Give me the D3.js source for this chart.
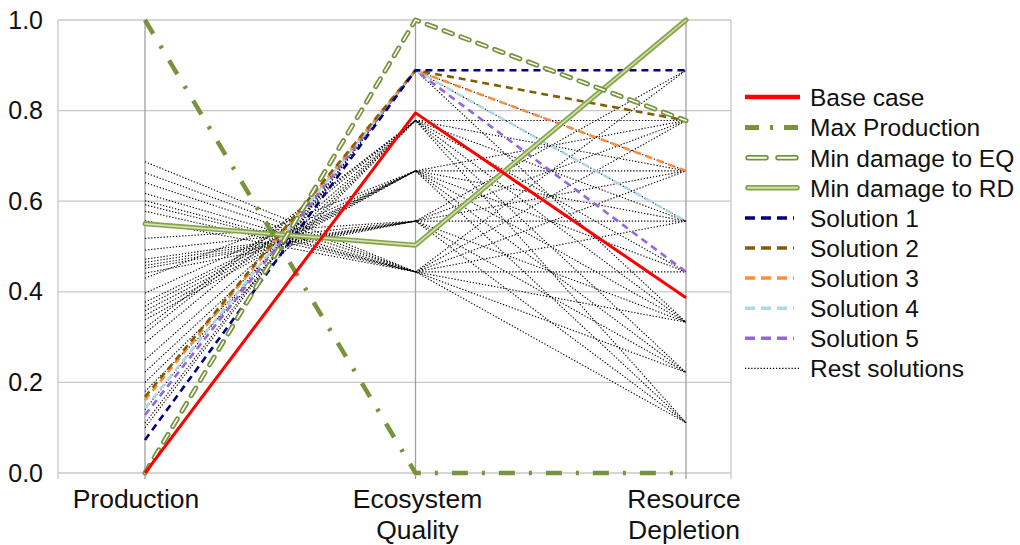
<!DOCTYPE html>
<html lang="en">
<head>
<meta charset="UTF-8">
<title>Solutions chart</title>
<script src="https://d3js.org/d3.v7.min.js"></script>
<style>
  body { margin: 0; background: #fff; }
  text { font-family: "Liberation Sans", Arial, sans-serif; fill: #111; }
</style>
</head>
<body>
<svg id="chart" width="1020" height="545"></svg>
<script>
// data
const categories = ["Production", "Ecosystem Quality", "Resource Depletion"];
const yTicks = [0, 0.2, 0.4, 0.6, 0.8, 1.0];

const baseCase = [0, 0.795, 0.387];
const maxProduction = [1, 0, 0];
const minDamageEQ = [0, 1, 0.778];
const minDamageRD = [0.55, 0.503, 1];
const solution1 = [0.073, 0.889, 0.889];
const solution2 = [0.168, 0.889, 0.778];
const solution3 = [0.161, 0.889, 0.667];
const solution4 = [0.143, 0.889, 0.556];
const solution5 = [0.128, 0.889, 0.444];

// remaining solutions: [production, ecosystem quality, resource depletion]
const restSolutions = [
    [0.687, 0.444, 0.889], [0.663, 0.444, 0.778], [0.641, 0.444, 0.667],
    [0.617, 0.444, 0.556], [0.601, 0.444, 0.333], [0.592, 0.444, 0.222],
    [0.578, 0.444, 0.111], [0.557, 0.444, 0.444],
    [0.518, 0.556, 0.778], [0.492, 0.556, 0.889], [0.472, 0.556, 0.667],
    [0.465, 0.556, 0.556], [0.458, 0.556, 0.333], [0.452, 0.556, 0.222],
    [0.441, 0.556, 0.111],
    [0.430, 0.667, 0.778], [0.397, 0.667, 0.667], [0.377, 0.667, 0.556],
    [0.368, 0.667, 0.444], [0.358, 0.667, 0.333], [0.348, 0.667, 0.222],
    [0.338, 0.667, 0.111],
    [0.320, 0.778, 0.778], [0.309, 0.778, 0.667], [0.287, 0.778, 0.556],
    [0.250, 0.778, 0.444], [0.223, 0.778, 0.333], [0.200, 0.778, 0.222],
    [0.180, 0.778, 0.111],
    [0.140, 0.889, 0.667], [0.110, 0.889, 0.556], [0.100, 0.889, 0.333]
];

const svg = d3.select("#chart");
const width = +svg.attr("width");

const frameLeft = 58, frameRight = 731;
const x = d3.scalePoint().domain(categories).range([145, 686]);
const y = d3.scaleLinear().domain([0, 1]).range([473, 20]);

svg.append("rect").attr("width", width).attr("height", 545).attr("fill", "#fff");

// grid
const grid = svg.append("g");
grid.selectAll("line.h")
    .data(yTicks)
    .enter()
    .append("line")
    .attr("x1", frameLeft).attr("x2", frameRight)
    .attr("y1", d => y(d)).attr("y2", d => y(d))
    .attr("stroke", "#c8c8c8").attr("stroke-width", 1.3);

grid.selectAll("line.frame")
    .data([frameLeft, frameRight])
    .enter()
    .append("line")
    .attr("x1", d => d).attr("x2", d => d)
    .attr("y1", y(1)).attr("y2", y(0) + 6)
    .attr("stroke", "#c8c8c8").attr("stroke-width", 1.3);

grid.selectAll("line.cat")
    .data(categories)
    .enter()
    .append("line")
    .attr("x1", d => x(d)).attr("x2", d => x(d))
    .attr("y1", y(1)).attr("y2", y(0) + 6)
    .attr("stroke", "#a0a0a0").attr("stroke-width", 1.3);

// y axis labels
svg.append("g")
    .attr("transform", `translate(${frameLeft},0)`)
    .call(d3.axisLeft(y).tickValues(yTicks).tickFormat(d3.format(".1f")).tickSize(0).tickPadding(15))
    .call(g => g.select(".domain").remove())
    .selectAll("text")
    .style("font-family", "'Liberation Sans', Arial, sans-serif")
    .style("font-size", "25px")
    .attr("fill", "#111");

// category labels (first one sits a little left of its axis in the original)
const labelShift = [-9, 2, -2];
const catLabels = svg.append("g");
categories.forEach((c, ci) => {
    const cx = x(c) + labelShift[ci];
    const t = catLabels.append("text")
        .attr("x", cx)
        .attr("y", 508)
        .attr("text-anchor", "middle")
        .style("font-size", "26.5px");
    c.split(" ").forEach((w, i) => {
        t.append("tspan").attr("x", cx).attr("dy", i === 0 ? 0 : 31).text(w);
    });
});

// styles
const dashed = color => ({
    chart: [{ stroke: color, width: 2.6, dash: "7,5" }],
    key: [{ stroke: color, width: 3.5, dash: "10,6" }]
});
const series = [
    { name: "Base case", values: baseCase,
      chart: [{ stroke: "#ff0000", width: 3 }],
      key: [{ stroke: "#ff0000", width: 4.5 }] },
    { name: "Max Production", values: maxProduction,
      chart: [{ stroke: "#77933c", width: 4.5, dash: "16,14,3,14" }],
      key: [{ stroke: "#77933c", width: 5, dash: "14,11,3,11" }] },
    { name: "Min damage to EQ", values: minDamageEQ,
      chart: [{ stroke: "#77933c", width: 5, dash: "9,9", cap: "round" },
              { stroke: "#fff", width: 1.6, dash: "9,9", cap: "round" }],
      key: [{ stroke: "#77933c", width: 5.5, dash: "18,12", cap: "round" },
            { stroke: "#fff", width: 2, dash: "18,12", cap: "round" }] },
    { name: "Min damage to RD", values: minDamageRD,
      chart: [{ stroke: "#86a44a", width: 5, cap: "round" },
              { stroke: "#d3e2b0", width: 1.6, cap: "round" }],
      key: [{ stroke: "#86a44a", width: 5.5, cap: "round" },
            { stroke: "#d3e2b0", width: 2, cap: "round" }] },
    Object.assign({ name: "Solution 1", values: solution1 }, dashed("#000080")),
    Object.assign({ name: "Solution 2", values: solution2 }, dashed("#7f6000")),
    Object.assign({ name: "Solution 3", values: solution3 }, dashed("#ff8b3d")),
    Object.assign({ name: "Solution 4", values: solution4 }, dashed("#add8e6")),
    Object.assign({ name: "Solution 5", values: solution5 }, dashed("#9467e0"))
];
const restLayers = [{ stroke: "#000", width: 1.1, dash: "1.3,1.8" }];

const line = d3.line()
    .x((d, i) => x(categories[i]))
    .y(d => y(d));

function drawPath(g, values, layers) {
    layers.forEach(l => {
        g.append("path")
            .attr("d", line(values))
            .attr("fill", "none")
            .attr("stroke", l.stroke)
            .attr("stroke-width", l.width)
            .attr("stroke-dasharray", l.dash || null)
            .attr("stroke-linecap", l.cap || "butt")
            .attr("stroke-linejoin", "round");
    });
}

const plot = svg.append("g");
restSolutions.forEach(v => drawPath(plot, v, restLayers));
// draw in reverse so base case ends up on top
series.slice().reverse().forEach(s => drawPath(plot, s.values, s.chart));

// legend
const legendItems = series.concat([{ name: "Rest solutions", key: restLayers }]);
const legend = svg.append("g");
legendItems.forEach((s, i) => {
    const ly = i === 0 ? 97 : 97.5 + i * 30.1;
    const g = legend.append("g").attr("transform", `translate(0,${ly})`);
    const isSolution = s.name.startsWith("Solution");
    s.key.forEach(l => {
        g.append("line")
            .attr("x1", l.cap === "round" ? 748 : 745)
            .attr("x2", isSolution ? 794 : (l.cap === "round" ? 797 : 800))
            .attr("y1", 0).attr("y2", 0)
            .attr("stroke", l.stroke)
            .attr("stroke-width", l.width)
            .attr("stroke-dasharray", l.dash || null)
            .attr("stroke-linecap", l.cap || "butt");
    });
    g.append("text")
        .attr("x", 810)
        .attr("y", 0)
        .attr("dy", "0.36em")
        .style("font-size", "24.5px")
        .text(s.name);
});
</script>
</body>
</html>
